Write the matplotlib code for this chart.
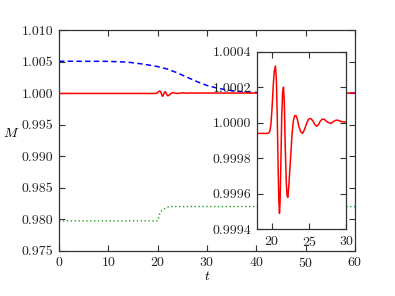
import matplotlib
matplotlib.use("Agg")
import matplotlib.pyplot as plt
from matplotlib.ticker import FormatStrFormatter, MultipleLocator

plt.rcParams["font.family"] = "serif"
plt.rcParams["font.serif"] = ["cmr10"]
plt.rcParams["mathtext.fontset"] = "cm"
plt.rcParams["axes.formatter.use_mathtext"] = True
plt.rcParams["font.size"] = 10

# red: M of the reference run
red_t = [0, 19.45, 19.7, 19.85, 20.0, 20.15, 20.3, 20.45, 20.58, 20.7,
         20.82, 20.92, 21.0, 21.08, 21.18, 21.3, 21.42, 21.54, 21.65,
         21.78, 21.92, 22.02, 22.13, 22.25, 22.4, 22.55, 22.7, 22.86,
         23.05, 23.22, 23.4, 23.6, 23.85, 24.1, 24.35, 24.6, 24.9, 25.2,
         25.5, 25.75, 26.0, 26.25, 26.5, 26.75, 27.0, 27.25, 27.5, 27.9,
         28.2, 28.5, 28.8, 29.1, 29.4, 29.7, 30, 60]
red_m = [0.99994, 0.99994, 0.99995, 0.99999, 1.00008, 1.00020, 1.00029,
         1.00032, 1.00025, 1.00004, 0.99975, 0.99956, 0.99949, 0.99955,
         0.99975, 1.00003, 1.00017, 1.00020, 1.00012, 0.99986, 0.99966,
         0.99959, 0.99958, 0.99964, 0.99974, 0.99984, 0.99994, 1.00001,
         1.00004, 1.00004, 1.00002, 0.99998, 0.99995, 0.99994, 0.99996,
         0.99999, 1.00002, 1.000024, 1.00001, 0.99999, 0.99998, 0.99999,
         1.00001, 1.00002, 1.00002, 1.00001, 1.000003, 0.999996, 1.000005,
         1.000013, 1.000015, 1.00001, 1.000006, 1.000004, 1.000004, 1.0]

# blue dashed
blue_t = [0, 10, 14, 17, 20, 22, 24, 26, 28, 30, 32, 34, 36, 38, 40, 45, 50, 60]
blue_m = [1.00505, 1.00503, 1.0049, 1.0046, 1.0042, 1.0038, 1.0032, 1.0025,
          1.0018, 1.0012, 1.0008, 1.0005, 1.0003, 1.00017, 1.0001, 1.00003,
          1.0, 1.0]

# green dotted
green_t = [0, 20, 20.3, 20.5, 20.9, 21.5, 22.0, 22.5, 60]
green_m = [0.97973, 0.97973, 0.9805, 0.98116, 0.9814, 0.9817, 0.9819, 0.9820, 0.9820]

spine_col = "#333333"

fig = plt.figure(figsize=(3.95, 2.96), dpi=100)
ax = fig.add_axes([0.1494, 0.153, 0.7494, 0.7456])

ax.plot(blue_t, blue_m, color="#0000ff", lw=1.1, ls=(0, (3.5, 2.2)), zorder=2)
ax.plot(green_t, green_m, color="#22a022", lw=1.0, ls=(0, (1, 1.8)), zorder=2)
ax.plot(red_t, red_m, color="#ff0000", lw=1.1, zorder=3)

ax.set_xlim(0, 60)
ax.set_ylim(0.975, 1.010)
ax.xaxis.set_major_locator(MultipleLocator(10))
ax.yaxis.set_major_locator(MultipleLocator(0.005))
ax.yaxis.set_major_formatter(FormatStrFormatter("%.3f"))
ax.set_xlabel("$t$", labelpad=0)
ax.set_ylabel("$M$", rotation=0)
ax.yaxis.set_label_coords(-0.16, 0.5)

axins = fig.add_axes([0.651, 0.2253, 0.226, 0.6])
axins.plot(red_t, red_m, color="#ff0000", lw=1.1)
axins.set_xlim(18, 30)
axins.set_ylim(0.9994, 1.0004)
axins.xaxis.set_major_locator(MultipleLocator(5))
axins.yaxis.set_major_locator(MultipleLocator(0.0002))
axins.yaxis.set_major_formatter(FormatStrFormatter("%.4f"))

for a in (ax, axins):
    a.tick_params(direction="in", top=True, right=True, length=4,
                  width=0.8, color=spine_col, labelcolor="#222222", pad=4)
    for s in a.spines.values():
        s.set_color(spine_col)
        s.set_linewidth(0.9)

fig.savefig("out.png", dpi=100)
